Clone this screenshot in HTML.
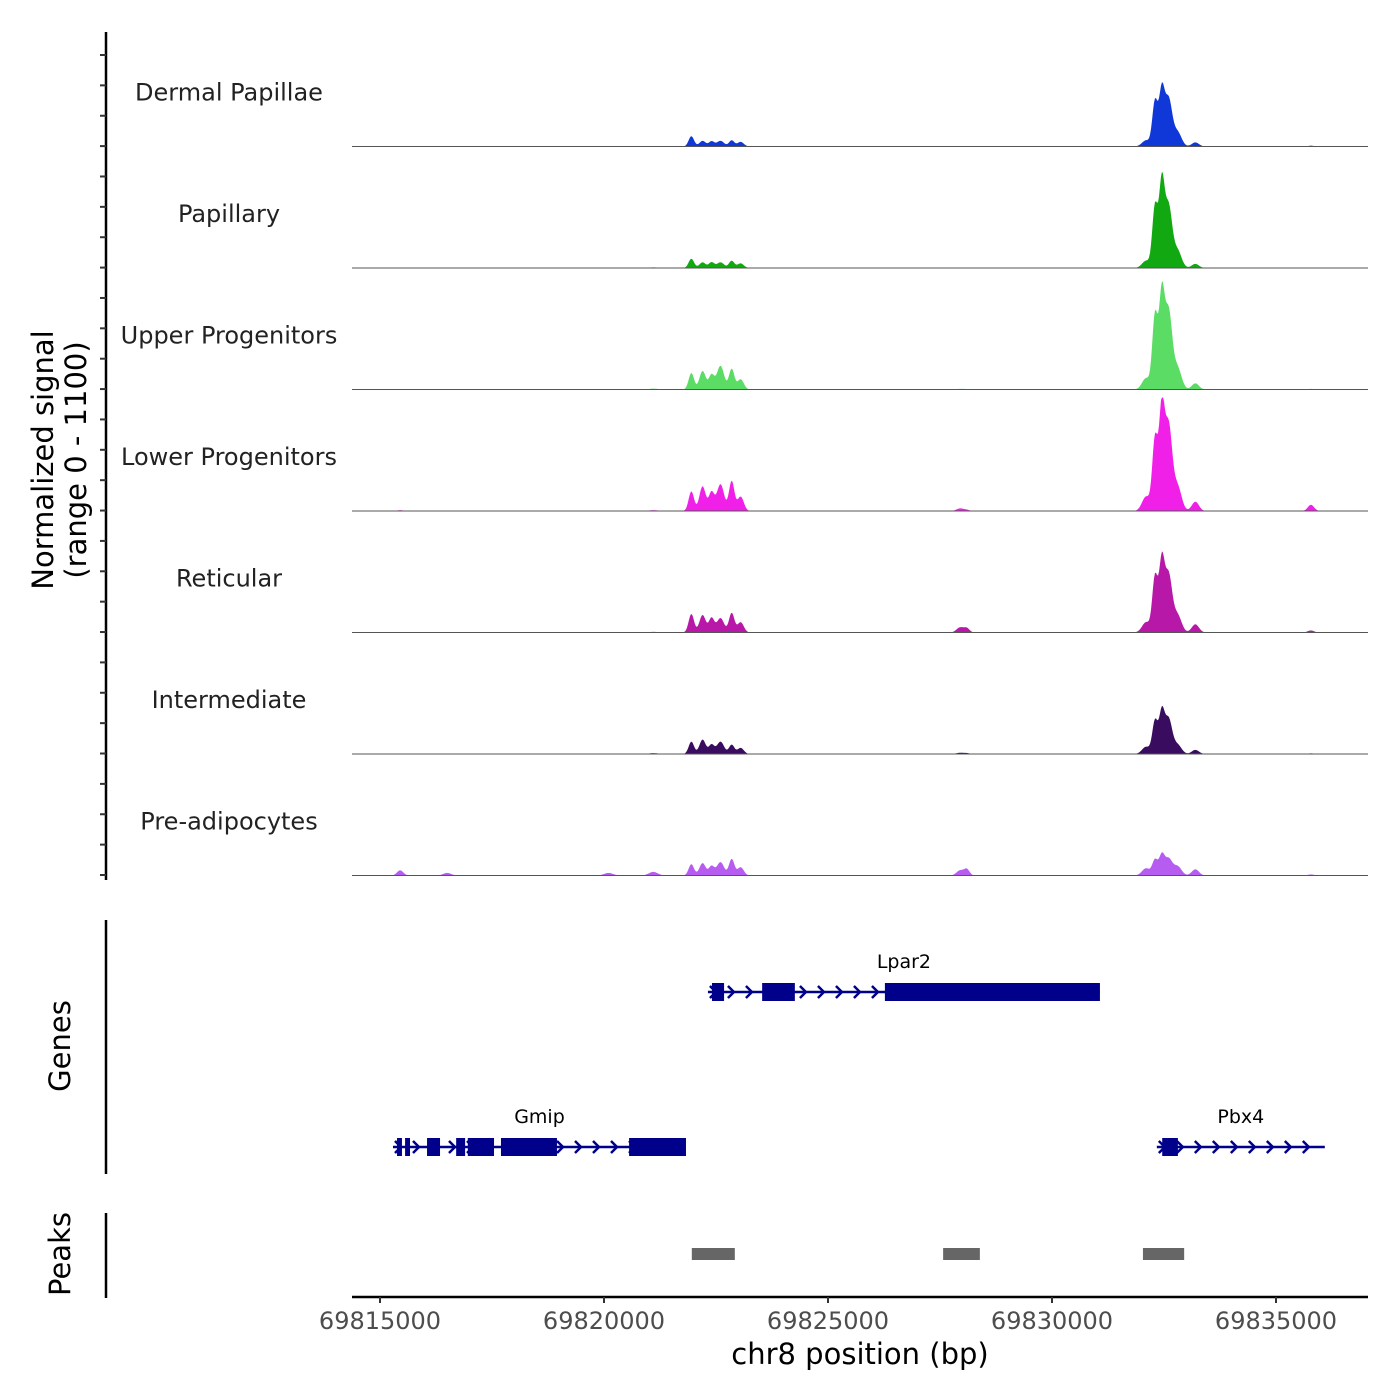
<!DOCTYPE html>
<html><head><meta charset="utf-8"><style>
html,body{margin:0;padding:0;background:#fff;}
svg{display:block;font-family:"DejaVu Sans","Liberation Sans",sans-serif;}
</style></head><body>
<svg id="chart" width="1400" height="1400" viewBox="0 0 1400 1400" xmlns="http://www.w3.org/2000/svg">
<g id="tracks"></g>
<g id="yaxis"></g>
<text transform="translate(53,460) rotate(-90)" text-anchor="middle" font-size="29" fill="#000">Normalized signal</text>
<text transform="translate(86,460) rotate(-90)" text-anchor="middle" font-size="29" fill="#000">(range 0 - 1100)</text>
<line x1="106" y1="920" x2="106" y2="1174" stroke="#000" stroke-width="2.5"/>
<text transform="translate(70,1046) rotate(-90)" text-anchor="middle" font-size="29" fill="#000">Genes</text>
<g id="genes"></g>
<line x1="106" y1="1213" x2="106" y2="1298" stroke="#000" stroke-width="2.5"/>
<text transform="translate(70,1254) rotate(-90)" text-anchor="middle" font-size="29" fill="#000">Peaks</text>
<g id="peaks"></g>
<g id="xaxis"></g>
<text x="860" y="1364" text-anchor="middle" font-size="29" fill="#000">chr8 position (bp)</text>
</svg>
<script>
const trackNames = ["Dermal Papillae","Papillary","Upper Progenitors","Lower Progenitors","Reticular","Intermediate","Pre-adipocytes"];
const trackColors = ["#1038d8","#12a812","#5bdc64","#f020e8","#b818a8","#3a0c60","#b75cf0"];
// peak component centers (bp) and widths (bp)
const compPos = [69815450,69816500,69820100,69821100,69821950,69822200,69822400,69822600,69822850,69823050,69827950,69828100,69832100,69832300,69832450,69832600,69832800,69833200,69835780];
const compWidth = [70,90,100,100,60,70,60,80,60,70,80,60,90,60,60,80,90,80,70];
// per-track heights (signal units, 0-1100)
const compHeights = [
 [5,2,3,5,100,55,50,55,60,45,5,3,60,440,520,460,140,40,8],
 [3,2,3,6,90,55,55,55,70,45,4,3,70,600,800,600,170,40,5],
 [4,3,4,8,160,180,140,230,200,100,6,4,110,720,880,760,210,60,6],
 [8,5,4,8,190,240,180,260,290,140,25,10,140,700,960,830,240,90,60],
 [4,3,3,6,180,170,140,140,190,100,50,40,100,540,660,560,170,80,20],
 [3,2,3,8,120,140,90,120,90,60,12,8,70,320,390,340,90,40,6],
 [50,25,25,35,110,120,90,130,160,80,50,60,70,150,190,160,90,60,10]
];
const xTicks = [69815000,69820000,69825000,69830000,69835000];
const geneNames = ["Lpar2","Gmip","Pbx4"];
const geneStart = [69822320,69815290,69832340];
const geneEnd = [69831070,69821830,69836090];
const geneRow = [0,1,1];
const exonStarts = [[69822410,69823530,69826270],[69815380,69815560,69816050,69816700,69816960,69817700,69820560],[69832460]];
const exonEnds = [[69822680,69824260,69831070],[69815490,69815670,69816340,69816900,69817545,69818950,69821830],[69832810]];
const peakStarts = [69821960,69827570,69832030];
const peakEnds = [69822920,69828390,69832950];

const NS="http://www.w3.org/2000/svg";
function mk(tag,attrs,parent){const e=document.createElementNS(NS,tag);for(const k in attrs)e.setAttribute(k,attrs[k]);parent.appendChild(e);return e;}
const X0=352,X1=1368;
const xs = bp => 380 + (bp-69815000)*0.0448;
const trackH = 121.5, firstBase = 146.5;
const ys = (v,i) => firstBase + i*trackH - v/1100*(trackH-8);

const tracks=document.getElementById('tracks');
trackNames.forEach((name,i)=>{
  const g=mk('g',{},tracks);
  
  
  let d='M'+X0+','+ys(0,i);
  for(let px=X0;px<=X1;px+=1){
    const bp=69815000+(px-380)/0.0448;
    let v=0;
    compPos.forEach((c,k)=>{const z=(bp-c)/compWidth[k];v+=compHeights[i][k]*Math.exp(-0.5*z*z);});
    d+=' L'+px+','+ys(Math.min(v,1100),i).toFixed(2);
  }
  d+=' L'+X1+','+ys(0,i)+' Z';
  const p=mk('path',{d:d,fill:trackColors[i]},g);
  
  
  const bl=mk('line',{x1:X0,x2:X1,y1:ys(0,i),y2:ys(0,i),stroke:'#555','stroke-width':1},g);
  
  
  const t=mk('text',{x:229,y:firstBase+i*trackH-46,'text-anchor':'middle','font-size':24,fill:'#222'},g);
  t.textContent=name;
  
  
});

const ya=document.getElementById('yaxis');
mk('line',{x1:106,x2:106,y1:32,y2:880,stroke:'#000','stroke-width':2.5},ya);
for(let k=0;k<28;k++){const y=55+k*30.37;const tk=mk('line',{x1:100,x2:106,y1:y,y2:y,stroke:'#333','stroke-width':2},ya);
  
  }

const gg=document.getElementById('genes');
const rowY=[992,1147];
geneNames.forEach((n,i)=>{
  const g=mk('g',{},gg);
  
  
  const y=rowY[geneRow[i]];
  const x1=xs(geneStart[i]),x2=xs(geneEnd[i]);
  mk('line',{x1:x1,x2:x2,y1:y,y2:y,stroke:'#00008b','stroke-width':2.5},g);
  for(let x=x1+6;x<x2;x+=18){mk('path',{d:`M${x-4},${y-6} L${x+2},${y} L${x-4},${y+6}`,fill:'none',stroke:'#00008b','stroke-width':2.5},g);}
  exonStarts[i].forEach((s,k)=>{const a=xs(s),b=xs(exonEnds[i][k]);
    const r=mk('rect',{x:a,y:y-9,width:Math.max(b-a,3),height:18,fill:'#00008b'},g);
    
    });
  const t=mk('text',{x:(x1+x2)/2,y:y-24,'text-anchor':'middle','font-size':19,fill:'#000'},g);
  t.textContent=n;
  
  
});

const pk=document.getElementById('peaks');
peakStarts.forEach((s,i)=>{const r=mk('rect',{x:xs(s),y:1248,width:xs(peakEnds[i])-xs(s),height:12,fill:'#666'},pk);
  
  });

const xa=document.getElementById('xaxis');
mk('line',{x1:X0,x2:X1,y1:1297,y2:1297,stroke:'#000','stroke-width':2.5},xa);
xTicks.forEach(v=>{const x=xs(v);
  const tk=mk('line',{x1:x,x2:x,y1:1297,y2:1303,stroke:'#333','stroke-width':2},xa);
  
  
  const t=mk('text',{x:x,y:1329,'text-anchor':'middle','font-size':24,fill:'#4d4d4d'},xa);
  t.textContent=v;
  
  });
</script>
</body></html>
